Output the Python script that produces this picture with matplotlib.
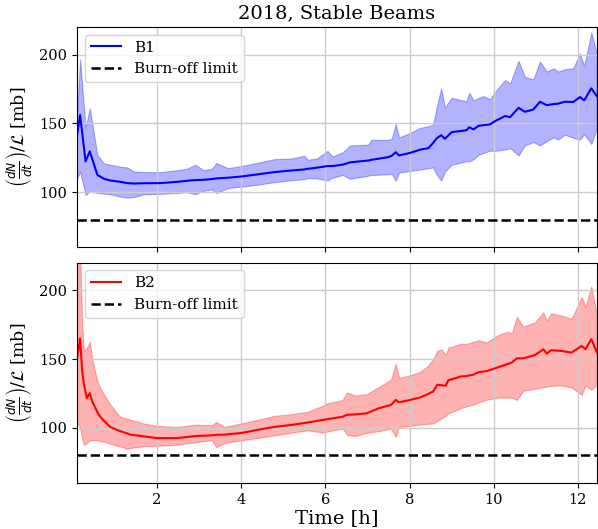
import matplotlib
matplotlib.use('Agg')
import matplotlib.pyplot as plt

plt.rcParams['font.family'] = 'serif'
plt.rcParams['font.serif'] = ['DejaVu Serif']

# B1 (upper panel): time [h], mean, lower / upper edge of band
t_b1 = [0.10, 0.17, 0.30, 0.40, 0.58, 0.74, 0.89, 1.13, 1.29, 1.45, 1.68, 2.08,
        2.47, 2.71, 2.91, 3.10, 3.30, 3.41, 3.68, 4.00, 4.40, 4.79, 5.20, 5.50,
        5.58, 5.80, 6.05, 6.17, 6.41, 6.59, 7.02, 7.09, 7.50, 7.58, 7.67, 7.75,
        8.01, 8.25, 8.45, 8.56, 8.64, 8.75, 8.84, 9.00, 9.35, 9.42, 9.52, 9.64,
        9.76, 9.91, 10.03, 10.27, 10.39, 10.59, 10.74, 10.94, 11.10, 11.26, 11.42,
        11.53, 11.69, 11.89, 12.05, 12.15, 12.32, 12.45]
mean_b1 = [141.6, 156.0, 122.4, 129.7, 112.6, 109.7, 108.5, 107.5, 106.6, 106.3, 106.5, 106.6,
           107.5, 108.3, 108.8, 109.0, 109.5, 110.0, 110.5, 111.4, 113.0, 114.6, 115.8, 116.5,
           117.0, 117.8, 119.0, 119.0, 120.0, 121.7, 123.0, 123.5, 125.5, 126.5, 129.0, 126.7,
           128.5, 130.9, 132.0, 135.8, 139.0, 141.4, 138.8, 143.6, 145.0, 147.2, 145.6, 148.2,
           148.7, 149.2, 151.6, 155.3, 154.5, 161.3, 158.4, 160.0, 165.7, 163.2, 164.0,
           164.3, 165.7, 165.5, 169.1, 166.7, 175.4, 169.8]
lo_b1 = [110.0, 115.0, 98.0, 100.5, 99.5, 99.0, 98.5, 96.8, 96.0, 96.5, 98.5, 98.8,
         99.5, 100.0, 98.5, 101.0, 102.0, 99.3, 103.0, 104.0, 105.5, 107.3, 108.7, 109.5,
         110.2, 110.0, 108.5, 110.5, 112.6, 109.7, 112.0, 112.5, 113.0, 113.4, 108.3, 114.2,
         115.5, 116.5, 117.5, 118.0, 113.0, 108.5, 115.0, 120.0, 122.4, 122.4, 124.0, 127.2,
         128.5, 130.2, 130.0, 131.0, 132.0, 126.7, 134.0, 136.4, 134.0, 137.0, 139.9,
         138.2, 141.8, 139.5, 138.2, 142.2, 135.0, 146.7]
hi_b1 = [157.0, 196.6, 146.7, 161.0, 127.0, 121.0, 120.0, 118.5, 118.0, 115.0, 114.6, 114.6,
         116.0, 117.0, 120.0, 116.0, 117.0, 121.2, 117.5, 119.0, 121.5, 124.0, 124.5, 126.5,
         123.6, 124.5, 130.0, 126.0, 129.0, 134.0, 134.5, 138.0, 138.0, 139.0, 149.6, 139.8,
         143.0, 146.7, 148.0, 149.0, 161.0, 175.4, 161.5, 168.6, 166.0, 172.3, 166.7, 168.5,
         169.8, 167.5, 172.8, 181.5, 179.1, 195.4, 183.7, 182.0, 194.9, 187.6, 190.0,
         187.6, 189.3, 190.0, 200.7, 191.7, 216.0, 201.0]

# B2 (lower panel)
t_b2 = [0.10, 0.17, 0.22, 0.26, 0.33, 0.40, 0.46, 0.50, 0.58, 0.62, 0.74, 0.89,
        1.05, 1.13, 1.29, 1.37, 1.68, 2.00, 2.47, 2.91, 3.30, 3.41, 3.60, 4.00,
        4.55, 4.79, 5.20, 5.58, 5.97, 6.05, 6.41, 6.51, 6.71, 6.98, 7.26, 7.56,
        7.67, 7.75, 8.01, 8.25, 8.43, 8.56, 8.66, 8.76, 8.86, 8.92, 9.24, 9.32,
        9.52, 9.64, 9.83, 10.11, 10.35, 10.43, 10.55, 10.70, 10.98, 11.18, 11.26,
        11.36, 11.61, 11.85, 12.09, 12.18, 12.32, 12.45]
mean_b2 = [151.0, 165.0, 141.0, 132.0, 121.6, 125.2, 119.0, 116.7, 111.5, 109.3, 104.9, 100.7,
           98.5, 97.6, 96.0, 95.1, 93.9, 92.6, 92.6, 94.1, 94.6, 95.0, 95.1, 96.3,
           99.5, 100.7, 102.2, 103.9, 106.0, 106.4, 108.1, 109.5, 109.8, 110.6, 114.2, 116.7,
           120.3, 118.6, 120.3, 122.1, 124.5, 126.4, 131.4, 131.0, 130.6, 134.6, 137.5, 137.5,
           138.7, 140.5, 141.2, 144.1, 146.6, 147.5, 150.5, 150.5, 152.9, 157.1, 153.9,
           156.4, 155.9, 154.7, 159.6, 157.1, 164.5, 155.0]
lo_b2 = [104.4, 100.0, 92.0, 87.8, 89.0, 91.0, 91.0, 91.0, 91.0, 90.5, 90.0, 88.5,
         87.0, 86.5, 84.8, 85.5, 86.7, 87.0, 87.8, 89.6, 91.0, 86.0, 89.0, 91.0,
         93.5, 94.6, 96.5, 98.3, 96.5, 97.5, 99.5, 95.0, 94.1, 96.5, 97.6, 99.5,
         93.4, 100.7, 101.5, 102.5, 103.0, 103.2, 105.0, 107.0, 109.0, 110.5, 114.5, 115.4,
         117.0, 118.6, 120.5, 122.1, 122.0, 122.0, 120.3, 127.0, 128.5, 129.5, 130.0,
         130.5, 130.9, 129.4, 124.0, 130.9, 127.7, 131.4]
hi_b2 = [235.0, 228.0, 175.0, 156.0, 158.0, 162.5, 150.0, 144.0, 134.0, 131.0, 124.0, 117.0,
         110.5, 108.0, 106.9, 106.0, 103.2, 101.5, 100.7, 102.4, 102.0, 104.4, 100.7, 103.2,
         107.0, 108.8, 110.0, 111.8, 116.5, 117.9, 120.3, 125.7, 123.5, 124.5, 129.5, 135.1,
         146.6, 136.3, 138.2, 140.7, 144.9, 150.0, 155.9, 157.1, 153.0, 158.3, 161.3, 160.8,
         162.5, 163.7, 162.0, 167.6, 169.9, 168.6, 180.9, 173.5, 176.6, 184.0, 177.8,
         183.3, 181.6, 179.2, 195.1, 187.8, 202.9, 182.0]

burn_off = 80
ylabel = r'$\left(\frac{dN}{dt}\right)/\mathcal{L}$ [mb]'

fig, (ax1, ax2) = plt.subplots(2, 1, figsize=(5.98, 5.29), dpi=100, sharex=True)
fig.subplots_adjust(left=0.129, right=0.998, top=0.949, bottom=0.087, hspace=0.07)

panels = [(ax1, t_b1, mean_b1, lo_b1, hi_b1, 'b', 'B1'),
          (ax2, t_b2, mean_b2, lo_b2, hi_b2, 'r', 'B2')]
for ax, t, m, lo, hi, c, lab in panels:
    ax.fill_between(t, lo, hi, color=c, alpha=0.3, lw=0.8)
    ax.plot(t, m, color=c, lw=1.5, label=lab)
    ax.axhline(burn_off, color='k', ls='--', lw=1.8, label='Burn-off limit')
    ax.set_ylim(60, 220)
    ax.set_yticks([100, 150, 200])
    ax.grid(True, color='0.8', lw=1.0)
    ax.set_ylabel(ylabel, fontsize=12.5)
    ax.tick_params(labelsize=10.5)
    ax.legend(loc='upper left', fontsize=11)

ax1.set_xlim(0.1, 12.45)
ax1.set_title('2018, Stable Beams', fontsize=14)
ax2.set_xticks([2, 4, 6, 8, 10, 12])
ax2.set_xlabel('Time [h]', fontsize=14, labelpad=2)

plt.savefig('out.png', dpi=100)
